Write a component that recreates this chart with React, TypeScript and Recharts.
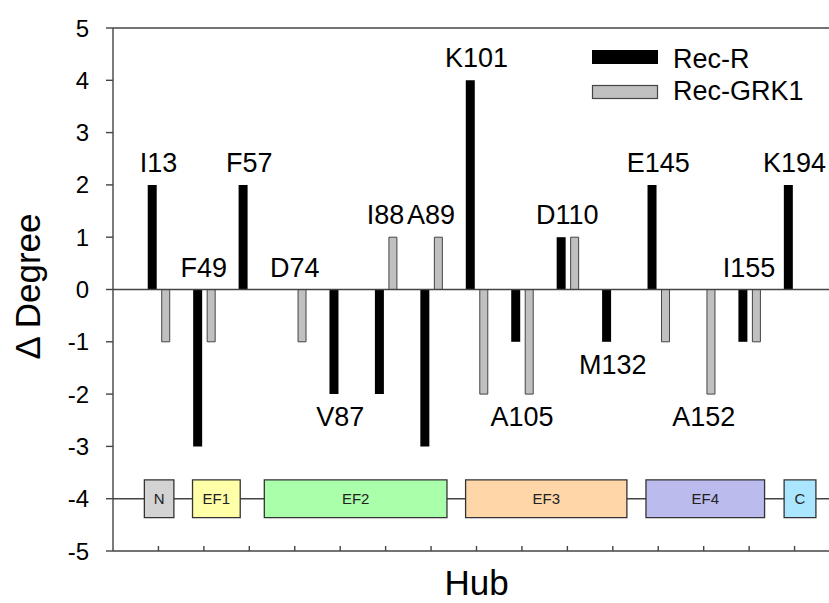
import React from "react";
import {
  ComposedChart,
  Bar,
  Line,
  XAxis,
  YAxis,
  ReferenceLine,
  ReferenceArea,
  Legend,
  LabelList,
} from "recharts";

// residues (hubs) along the x axis
const residues = ["I13", "F49", "F57", "D74", "V87", "I88", "A89", "K101", "A105", "D110", "M132", "E145", "A152", "I155", "K194"];
const recR = [2, -3, 2, 0, -2, -2, -3, 4, -1, 1, -1, 2, 0, -1, 2];
const recGRK1 = [-1, -1, 0, -1, 0, 1, 1, -2, -2, 1, 0, -1, -2, -1, 0];
// which side of the bars the residue name sits on
const labelSide = ["up", "up", "up", "up", "down", "up", "up", "up", "down", "up", "down", "up", "down", "up", "up"];

const yTicks = [-5, -4, -3, -2, -1, 0, 1, 2, 3, 4, 5];

// domain schematic at the bottom, in units of the hub index
const domainNames = ["N", "EF1", "EF2", "EF3", "EF4", "C"];
const domainStart = [-0.31, 0.75, 2.33, 6.76, 10.73, 13.77];
const domainEnd = [0.34, 1.8, 6.35, 10.31, 13.34, 14.47];
const domainColors = ["#d3d3d3", "#ffffa8", "#aaffaa", "#ffd6a8", "#bbbbee", "#aae6ff"];

const seriesNames = ["Rec-R", "Rec-GRK1"];

const FONT = "Arial, 'Liberation Sans', Helvetica, sans-serif";
const AXIS = "#444";

const data = residues.map((r, i) => ({
  residue: r,
  pos: i,
  recR: recR[i],
  recGRK1: recGRK1[i],
  anchor: labelSide[i] === "up" ? Math.max(0, recR[i], recGRK1[i]) : Math.min(recR[i], recGRK1[i]),
}));

const UpTick = (props: any) => {
  const { x, y } = props;
  return <line x1={x} x2={x} y1={y} y2={y - 5} stroke={AXIS} strokeWidth={1.4} />;
};

const ResidueLabel = (props: any) => {
  const { x, y, value, index } = props;
  const up = labelSide[index] === "up";
  return (
    <text
      x={x}
      y={up ? y - 13 : y + 32}
      textAnchor="middle"
      fontFamily={FONT}
      fontSize={27}
      fill="#000"
    >
      {value}
    </text>
  );
};

const YTitle = (props: any) => {
  const vb = props.viewBox || { x: 0, y: 28, width: 113, height: 523 };
  const cx = vb.x + 40;
  const cy = vb.y + vb.height / 2 - 3;
  return (
    <text x={cx} y={cy} transform={`rotate(-90 ${cx} ${cy})`} textAnchor="middle" fontFamily={FONT} fontSize={35} fill="#000">
      Δ Degree
    </text>
  );
};

const XTitle = (props: any) => {
  const vb = props.viewBox || { x: 113, y: 551, width: 727, height: 52 };
  return (
    <text x={vb.x + vb.width / 2} y={595} textAnchor="middle" fontFamily={FONT} fontSize={35} fill="#000">
      Hub
    </text>
  );
};

const LegendBox = () => (
  <svg width={829} height={110} style={{ display: "block" }}>
    <rect x={592} y={50} width={66} height={14} fill="#000" />
    <text x={673} y={68} fontFamily={FONT} fontSize={27} fill="#000">
      {seriesNames[0]}
    </text>
    <rect x={592.5} y={85.5} width={65} height={13} fill="#c0c0c0" stroke={AXIS} strokeWidth={1.2} />
    <text x={673} y={100} fontFamily={FONT} fontSize={27} fill="#000">
      {seriesNames[1]}
    </text>
  </svg>
);

export default function App() {
  return (
    <div style={{ position: "absolute", left: 0, top: 0, width: 829, height: 603, overflow: "hidden", background: "#fff" }}>
      <ComposedChart
        width={845}
        height={603}
        data={data}
        margin={{ top: 28, right: 5, left: 0, bottom: 0 }}
        barGap={5}
      >
        <XAxis
          xAxisId="cat"
          dataKey="residue"
          type="category"
          interval={0}
          padding={{ left: 22.72, right: 22.72 }}
          height={52}
          tickSize={0}
          tickMargin={0}
          tickLine={false}
          axisLine={{ stroke: AXIS, strokeWidth: 1.4 }}
          tick={<UpTick />}
          label={<XTitle />}
        />
        <XAxis
          xAxisId="dom"
          dataKey="pos"
          type="number"
          scale="linear"
          domain={[-1, 15]}
          allowDataOverflow
          hide
        />
        <YAxis
          domain={[-5, 5]}
          ticks={yTicks}
          interval={0}
          width={113}
          tickSize={7}
          tickMargin={17}
          axisLine={{ stroke: AXIS, strokeWidth: 1.4 }}
          tickLine={{ stroke: AXIS, strokeWidth: 1.4 }}
          tick={{ fontSize: 24, fontFamily: FONT, fill: "#000" }}
          label={<YTitle />}
        />
        <ReferenceLine y={5} stroke={AXIS} strokeWidth={1.4} />
        <ReferenceLine y={-4} stroke={AXIS} strokeWidth={1.4} zIndex={50} />
        {domainNames.map((name, i) => (
          <ReferenceArea
            key={name}
            xAxisId="dom"
            x1={domainStart[i]}
            x2={domainEnd[i]}
            y1={-4.36}
            y2={-3.64}
            ifOverflow="visible"
            fill={domainColors[i]}
            fillOpacity={1}
            stroke="#333"
            strokeWidth={1.3}
            zIndex={150}
            label={{ value: name, position: "center", fontSize: 15, fontFamily: FONT, fill: "#222" }}
          />
        ))}
        <Bar xAxisId="cat" dataKey="recR" name={seriesNames[0]} barSize={9} fill="#000" isAnimationActive={false} />
        <Bar
          xAxisId="cat"
          dataKey="recGRK1"
          name={seriesNames[1]}
          barSize={8}
          fill="#c0c0c0"
          stroke={AXIS}
          strokeWidth={1}
          isAnimationActive={false}
        />
        <ReferenceLine y={0} stroke={AXIS} strokeWidth={1.4} />
        <Line
          xAxisId="cat"
          dataKey="anchor"
          stroke="none"
          dot={false}
          activeDot={false}
          legendType="none"
          isAnimationActive={false}
        >
          <LabelList dataKey="residue" content={<ResidueLabel />} />
        </Line>
        <Legend
          layout="vertical"
          align="center"
          verticalAlign="middle"
          content={<LegendBox />}
          wrapperStyle={{ position: "absolute", left: 0, top: 0, width: 829, height: 110 }}
        />
      </ComposedChart>
    </div>
  );
}
